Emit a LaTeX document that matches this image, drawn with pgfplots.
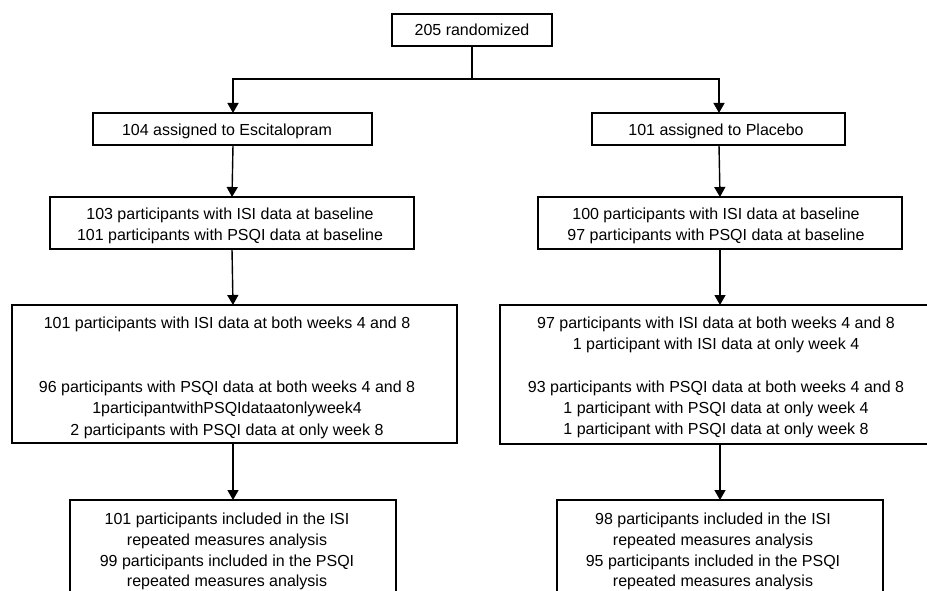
\documentclass[border=0pt]{standalone}
\usepackage{fontspec}
\setmainfont{Liberation Sans}
\usepackage{pgfplots}
\pgfplotsset{compat=1.18}
\usetikzlibrary{arrows.meta}
\newcommand\fs{\fontsize{16bp}{21bp}\selectfont}
\begin{document}
\begin{tikzpicture}
\clip (0,0) rectangle (927bp,591bp);
\begin{axis}[at={(0,0)}, anchor=south west, width=927bp, height=591bp, scale only axis,
  xmin=0, xmax=927, ymin=0, ymax=591, y dir=reverse, axis lines=none, ticks=none, clip=false,
  cycle list={{black, mark=none}}, no markers,
  every axis plot/.append style={line width=1.6bp, line cap=rect, line join=miter}]
% boxes
\addplot coordinates {(392,14)(552,14)(552,46)(392,46)(392,14)};
\addplot coordinates {(93,113)(372,113)(372,145)(93,145)(93,113)};
\addplot coordinates {(592,113)(845,113)(845,145)(592,145)(592,113)};
\addplot coordinates {(50,197)(414,197)(414,249)(50,249)(50,197)};
\addplot coordinates {(538,197)(902,197)(902,249)(538,249)(538,197)};
\addplot[line width=2bp] coordinates {(12,305)(457,305)(457,443)(12,443)(12,305)};
\addplot[line width=2bp] coordinates {(500,305)(930,305)(930,444)(500,444)(500,305)};
\addplot[line width=2bp] coordinates {(70,500)(396,500)(396,600)(70,600)(70,500)};
\addplot[line width=2bp] coordinates {(557,500)(883,500)(883,600)(557,600)(557,500)};
% connectors
\addplot[line width=1.4bp, line cap=butt] coordinates {(472,46)(472,79)};
\addplot[line width=1.4bp] coordinates {(233,79)(719,79)};
\addplot[line width=1.4bp, line cap=butt, -{Triangle[length=10bp,width=11bp]}] coordinates {(233,79)(233,113)};
\addplot[line width=1.4bp, line cap=butt, -{Triangle[length=10bp,width=11bp]}] coordinates {(719,79)(719,113)};
\addplot[line width=1.4bp, line cap=butt, -{Triangle[length=10bp,width=11bp]}] coordinates {(233,145)(232,197)};
\addplot[line width=1.4bp, line cap=butt, -{Triangle[length=10bp,width=11bp]}] coordinates {(719,145)(720,197)};
\addplot[line width=1.4bp, line cap=butt, -{Triangle[length=10bp,width=11bp]}] coordinates {(232,249)(233,305)};
\addplot[line width=1.4bp, line cap=butt, -{Triangle[length=10bp,width=11bp]}] coordinates {(720,249)(720,305)};
\addplot[line width=1.4bp, line cap=butt, -{Triangle[length=10bp,width=11bp]}] coordinates {(233,443)(233,500)};
\addplot[line width=1.4bp, line cap=butt, -{Triangle[length=10bp,width=11bp]}] coordinates {(720,444)(720,500)};
% texts
\node[anchor=base, font=\fs] at (axis cs:472,35.5) {205 randomized};
\node[anchor=base, font=\fs] at (axis cs:227,135.5) {104 assigned to Escitalopram};
\node[anchor=base, font=\fs] at (axis cs:716,135.5) {101 assigned to Placebo};
\node[anchor=base, font=\fs] at (axis cs:230,219.5) {103 participants with ISI data at baseline};
\node[anchor=base, font=\fs] at (axis cs:230,240.5) {101 participants with PSQI data at baseline};
\node[anchor=base, font=\fs] at (axis cs:716,219.5) {100 participants with ISI data at baseline};
\node[anchor=base, font=\fs] at (axis cs:716,240.5) {97 participants with PSQI data at baseline};
\node[anchor=base, font=\fs] at (axis cs:227,328) {101 participants with ISI data at both weeks 4 and 8};
\node[anchor=base, font=\fs] at (axis cs:227,392) {96 participants with PSQI data at both weeks 4 and 8};
\node[anchor=base, font=\fs] at (axis cs:227,413.5) {1participantwithPSQIdataatonlyweek4};
\node[anchor=base, font=\fs] at (axis cs:227,435) {2 participants with PSQI data at only week 8};
\node[anchor=base, font=\fs] at (axis cs:716,328) {97 participants with ISI data at both weeks 4 and 8};
\node[anchor=base, font=\fs] at (axis cs:716,349) {1 participant with ISI data at only week 4};
\node[anchor=base, font=\fs] at (axis cs:716,392) {93 participants with PSQI data at both weeks 4 and 8};
\node[anchor=base, font=\fs] at (axis cs:716,413) {1 participant with PSQI data at only week 4};
\node[anchor=base, font=\fs] at (axis cs:716,434) {1 participant with PSQI data at only week 8};
\node[anchor=base, font=\fs] at (axis cs:227,524.5) {101 participants included in the ISI};
\node[anchor=base, font=\fs] at (axis cs:227,545) {repeated measures analysis};
\node[anchor=base, font=\fs] at (axis cs:227,566) {99 participants included in the PSQI};
\node[anchor=base, font=\fs] at (axis cs:227,586.5) {repeated measures analysis};
\node[anchor=base, font=\fs] at (axis cs:713,524.5) {98 participants included in the ISI};
\node[anchor=base, font=\fs] at (axis cs:713,545) {repeated measures analysis};
\node[anchor=base, font=\fs] at (axis cs:713,566) {95 participants included in the PSQI};
\node[anchor=base, font=\fs] at (axis cs:713,586.5) {repeated measures analysis};
\end{axis}
\end{tikzpicture}
\end{document}
